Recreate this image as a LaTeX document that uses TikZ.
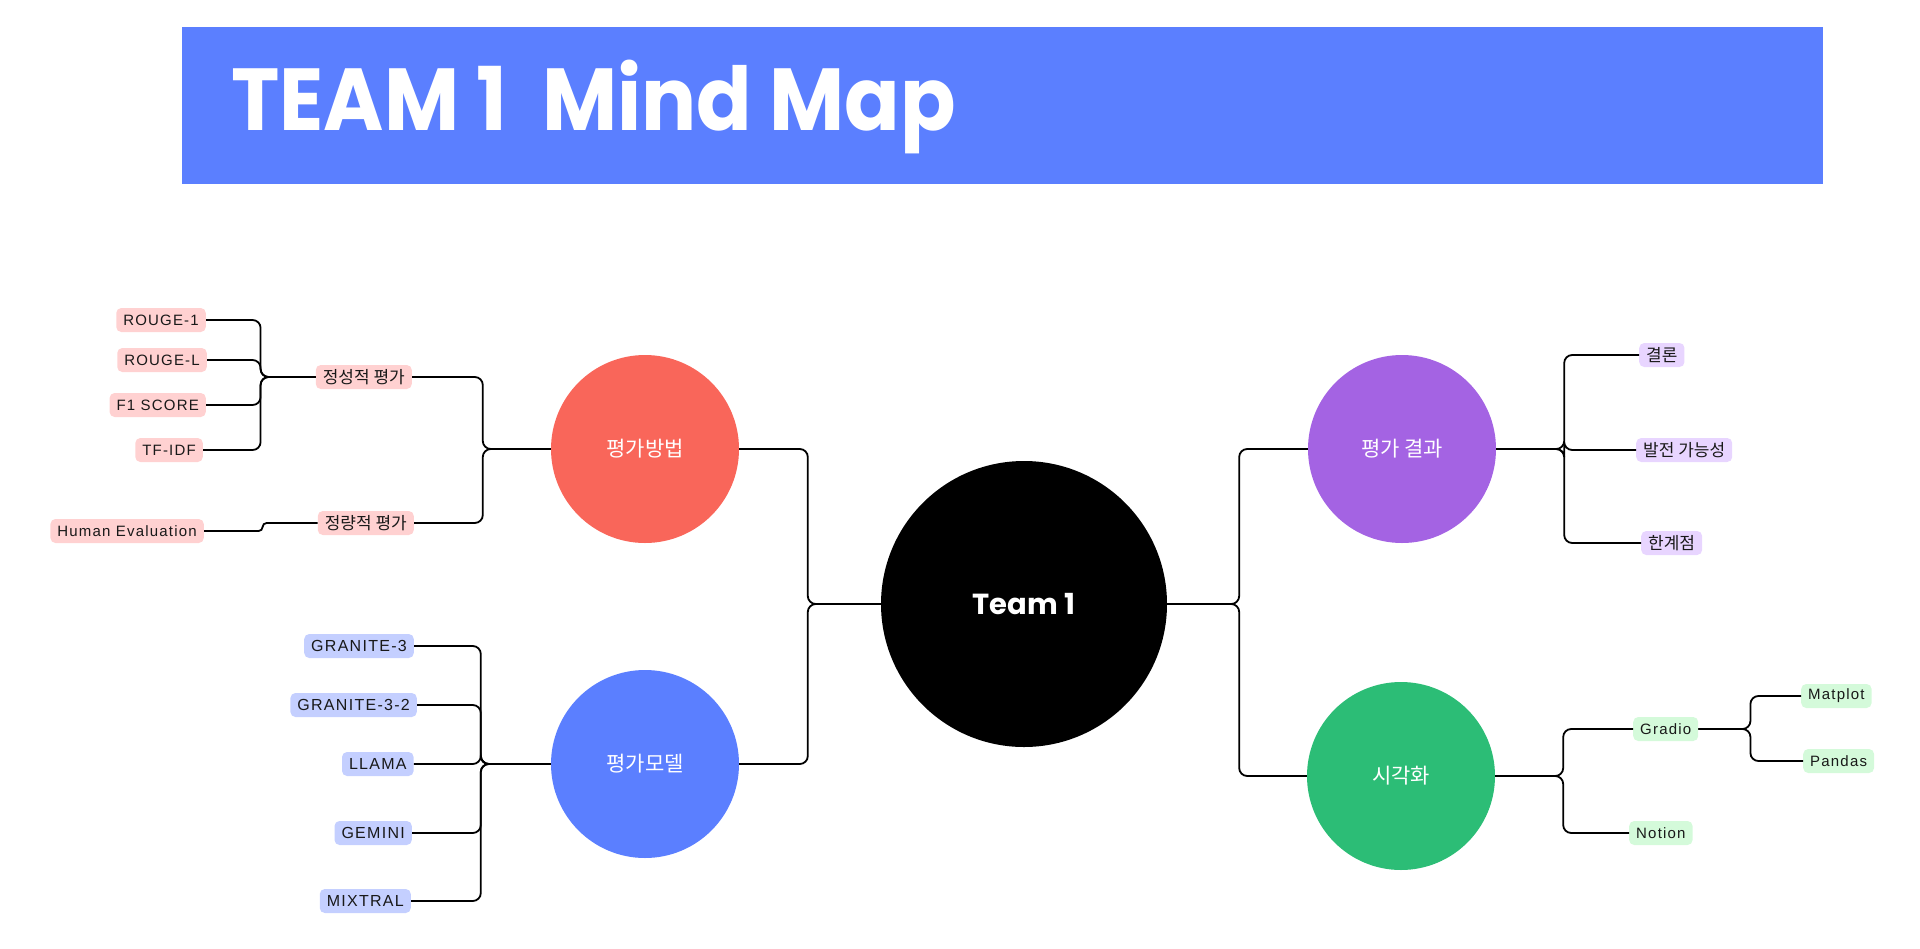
\documentclass[tikz,border=0pt]{standalone}
\usepackage{fontspec}
\setmainfont[LetterSpace=8]{Liberation Sans}
\newfontfamily\hangul{Noto Sans CJK KR}
\newfontfamily\titlefont{Poppins}
\newfontfamily\bannerfont[FakeStretch=0.93]{Poppins}
\usetikzlibrary{positioning}
\definecolor{bluetopic}{HTML}{5B7FFF}
\definecolor{redtopic}{HTML}{F9665A}
\definecolor{purpletopic}{HTML}{A463E3}
\definecolor{greentopic}{HTML}{2CBD76}
\definecolor{redleaf}{HTML}{FFD1D1}
\definecolor{blueleaf}{HTML}{C4CFFF}
\definecolor{purpleleaf}{HTML}{E8D5FF}
\definecolor{greenleaf}{HTML}{D4FADA}
\tikzset{
  topic/.style={circle,minimum size=188pt,inner sep=0pt,text=white,
    font=\hangul\fontsize{21}{25}\selectfont},
  leaf/.style={rectangle,rounded corners=5pt,minimum height=24pt,
    inner xsep=7pt,inner ysep=0pt,text=black!90,font=\fontsize{15}{18}\selectfont},
  kr/.style={font=\hangul\fontsize{17}{20}\selectfont},
  redl/.style={leaf,fill=redleaf,anchor=east},
  bluel/.style={leaf,fill=blueleaf,anchor=east,font=\fontsize{16}{19}\selectfont},
  purplel/.style={leaf,fill=purpleleaf,anchor=west},
  greenl/.style={leaf,fill=greenleaf,anchor=west},
  link/.style={draw=black,line width=1.8pt,rounded corners=8pt}
}
\begin{document}
\begin{tikzpicture}[x=1pt,y=-1pt]
\useasboundingbox (0,0) rectangle (1920,948);
\node[fill=bluetopic,minimum width=1641pt,minimum height=157pt,inner sep=0pt,anchor=north west] (banner) at (182,27) {};
\node[anchor=base west,inner sep=0pt,text=white,font=\bannerfont\bfseries\fontsize{88}{100}\selectfont] (title) at (231,130) {TEAM 1~~Mind Map};
% hubs
\node[circle,fill=black,minimum size=286pt,inner sep=0pt,text=white,font=\titlefont\bfseries\fontsize{29}{34}\selectfont] (team) at (1024,604) {Team 1};
\node[topic,fill=redtopic] (method) at (645,449) {평가방법};
\node[topic,fill=bluetopic] (model) at (645,764) {평가모델};
\node[topic,fill=purpletopic] (result) at (1402,449) {평가 결과};
\node[topic,fill=greentopic] (visual) at (1401,776) {시각화};
% 평가방법
\node[redl,kr] (qual) at (412,377) {정성적 평가};
\node[redl,kr] (quant) at (414,523) {정량적 평가};
\node[redl] (rouge1) at (206,320) {ROUGE-1};
\node[redl] (rougel) at (207,360) {ROUGE-L};
\node[redl] (fscore) at (206,405) {F1 SCORE};
\node[redl] (tfidf) at (203,450) {TF-IDF};
\node[redl] (human) at (204,531) {Human Evaluation};
% 평가모델
\node[bluel] (granite) at (414,646) {GRANITE-3};
\node[bluel] (granitetwo) at (417,705) {GRANITE-3-2};
\node[bluel,left=137pt of model] (llama) {LLAMA};
\node[bluel] (gemini) at (412,833) {GEMINI};
\node[bluel] (mixtral) at (411,901) {MIXTRAL};
% 평가 결과
\node[purplel,kr] (concl) at (1639,355) {결론};
\node[purplel,kr] (growth) at (1636,450) {발전 가능성};
\node[purplel,kr] (limit) at (1641,543) {한계점};
% 시각화
\node[greenl] (gradio) at (1633,729) {Gradio};
\node[greenl] (notion) at (1629,833) {Notion};
\node[greenl] (matplot) at (1801,696) {Matplot};
\node[greenl] (pandas) at (1803,761) {Pandas};
% links
\draw[link](team.west)--++(-73,0)|-(method.east);
\draw[link](team.west)--++(-73,0)|-(model.east);
\draw[link](team.east)--++(72,0)|-(result.west);
\draw[link](team.east)--++(72,0)|-(visual.west);
\draw[link](method.west)--++(-68,0)|-(qual.east);
\draw[link](method.west)--++(-68,0)|-(quant.east);
\foreach \l in {rouge1,rougel,fscore,tfidf}
  \draw[link](qual.west)--++(-55,0)|-(\l.east);
\draw[link,rounded corners=4pt](quant.west)--++(-55,0)|-(human.east);
\foreach \l in {granite,granitetwo,llama,gemini,mixtral}
  \draw[link](model.west)--++(-70,0)|-(\l.east);
\foreach \l in {concl,growth,limit}
  \draw[link](result.east)--++(68,0)|-(\l.west);
\foreach \l in {gradio,notion}
  \draw[link](visual.east)--++(68,0)|-(\l.west);
\foreach \l in {matplot,pandas}
  \draw[link](gradio.east)--++(52,0)|-(\l.west);
\end{tikzpicture}
\end{document}
